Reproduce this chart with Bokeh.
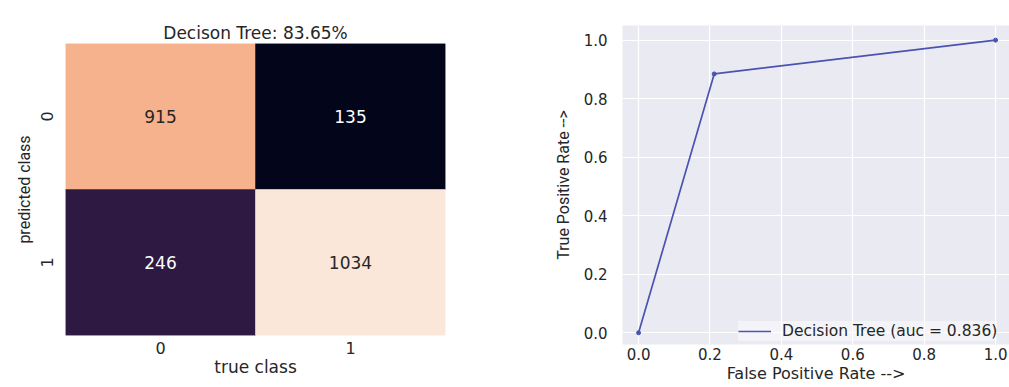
import numpy as np
from bokeh.plotting import figure
from bokeh.layouts import row
from bokeh.core.properties import value
from bokeh.models import (ColumnDataSource, LinearColorMapper, Range1d,
                          FixedTicker, Legend, LegendItem)
from bokeh.embed import file_html
from bokeh.resources import INLINE

# ---------------- data ----------------
class_labels = ["0", "1"]
true_class = [0, 1, 0, 1]
pred_class = [0, 0, 1, 1]
counts = [915, 135, 246, 1034]

fpr = [0.0, 0.2119, 1.0]
tpr = [0.0, 0.8845, 1.0]

FONT = "DejaVu Sans"
NARROW = "Roboto"
TXT = "#262626"

# ---------------- confusion matrix ----------------
accuracy = (counts[0] + counts[3]) / sum(counts)

# rocket-like colormap anchors
anchors = [(3, 5, 26), (46, 26, 66), (90, 30, 82), (135, 30, 90), (181, 25, 88),
           (225, 51, 66), (243, 111, 76), (246, 180, 142), (251, 230, 218)]
palette = []
for i in range(256):
    t = i / 255 * (len(anchors) - 1)
    k = min(int(t), len(anchors) - 2)
    f = t - k
    c = [round(a + (b - a) * f) for a, b in zip(anchors[k], anchors[k + 1])]
    palette.append("#%02x%02x%02x" % tuple(c))

mapper = LinearColorMapper(palette=palette, low=min(counts), high=max(counts))
mid = (min(counts) + max(counts)) / 2

cm_src = ColumnDataSource(dict(
    x=[t + 0.5 for t in true_class],
    y=[p + 0.5 for p in pred_class],
    count=counts,
    label=[str(c) for c in counts],
    tcolor=["white" if c < mid else TXT for c in counts],
))

p1 = figure(width=540, height=387, x_range=Range1d(0, 2), y_range=Range1d(2, 0),
            output_backend="svg", toolbar_location=None,
            min_border_left=65, min_border_right=95,
            min_border_top=43, min_border_bottom=52,
            title=f"Decison Tree: {accuracy:.2%}")
p1.frame_align = False
p1.rect("x", "y", width=1, height=1, source=cm_src,
        fill_color={"field": "count", "transform": mapper},
        line_color={"field": "count", "transform": mapper}, line_width=0.5)
p1.text("x", "y", text="label", source=cm_src, text_color="tcolor",
        text_align="center", text_baseline="middle",
        text_font_size="17px", text_font=value(FONT))

p1.title.align = "center"
p1.title.text_font = FONT
p1.title.text_font_size = "17px"
p1.title.text_font_style = "normal"
p1.title.text_color = TXT
p1.title.standoff = 1

ticks = [0.5, 1.5]
overrides = {0.5: class_labels[0], 1.5: class_labels[1]}
for ax in (p1.xaxis[0], p1.yaxis[0]):
    ax.ticker = FixedTicker(ticks=ticks)
    ax.major_label_overrides = overrides
    ax.axis_line_color = None
    ax.major_tick_line_color = None
    ax.minor_tick_line_color = None
    ax.major_tick_out = 0
    ax.minor_tick_out = 0
    ax.major_label_text_font = FONT
    ax.major_label_text_font_size = "16px"
    ax.major_label_text_color = TXT
    ax.axis_label_text_font = FONT
    ax.axis_label_text_font_style = "normal"
    ax.axis_label_text_color = TXT

p1.xaxis.axis_label = "true class"
p1.xaxis.axis_label_text_font_size = "17px"
p1.xaxis.major_label_standoff = 6
p1.xaxis.axis_label_standoff = 0
p1.yaxis.axis_label = "predicted class"
p1.yaxis.axis_label_text_font = NARROW
p1.yaxis.axis_label_text_font_size = "16px"
p1.yaxis.major_label_orientation = "vertical"
p1.yaxis.major_label_standoff = 13
p1.yaxis.axis_label_standoff = 4
p1.xgrid.visible = False
p1.ygrid.visible = False
p1.outline_line_color = None

# ---------------- ROC curve ----------------
auc = sum((fpr[i + 1] - fpr[i]) * (tpr[i + 1] + tpr[i]) / 2 for i in range(len(fpr) - 1))

p2 = figure(width=469, height=387, x_range=Range1d(-0.045, 1.039),
            y_range=Range1d(-0.04, 1.05),
            output_backend="svg", toolbar_location=None,
            min_border_left=82, min_border_right=0,
            min_border_top=25, min_border_bottom=43)
p2.frame_align = False
p2.background_fill_color = "#eaeaf2"
p2.outline_line_color = None
for g in (p2.xgrid[0], p2.ygrid[0]):
    g.grid_line_color = "white"
    g.grid_line_width = 1.2

roc_src = ColumnDataSource(dict(fpr=fpr, tpr=tpr))
line_col = "#4a52b2"
r_line = p2.line("fpr", "tpr", source=roc_src, line_color=line_col, line_width=1.7)
r_pts = p2.scatter("fpr", "tpr", source=roc_src, size=4, fill_color=line_col,
                   line_color=line_col)

# legend pinned near the lower-right corner of the frame (screen px offsets)
legend = Legend(items=[LegendItem(label=f"Decision Tree (auc = {auc:.3f})",
                                  renderers=[r_line])],
                location=(116, 3))
legend.label_text_font = FONT
legend.label_text_font_size = "15.5px"
legend.label_text_color = TXT
legend.background_fill_color = "white"
legend.background_fill_alpha = 0.45
legend.border_line_color = None
legend.glyph_width = 33
legend.label_standoff = 11
legend.margin = 0
legend.padding = 6
legend.spacing = 0
p2.add_layout(legend)

tick_vals = [0.0, 0.2, 0.4, 0.6, 0.8, 1.0]
for ax in (p2.xaxis[0], p2.yaxis[0]):
    ax.ticker = FixedTicker(ticks=tick_vals)
    ax.axis_line_color = None
    ax.major_tick_line_color = None
    ax.minor_tick_line_color = None
    ax.major_tick_out = 0
    ax.minor_tick_out = 0
    ax.major_label_text_font = FONT
    ax.major_label_text_font_size = "15px"
    ax.major_label_text_color = TXT
    ax.axis_label_text_font_style = "normal"
    ax.axis_label_text_color = TXT
p2.xaxis.major_label_overrides = {v: f"{v:.1f}" for v in tick_vals}
p2.yaxis.major_label_overrides = {v: f"{v:.1f}" for v in tick_vals}
p2.xaxis.axis_label = "False Positive Rate -->"
p2.xaxis.axis_label_text_font = FONT
p2.xaxis.axis_label_text_font_size = "16px"
p2.xaxis.major_label_standoff = 3
p2.xaxis.axis_label_standoff = 1
p2.yaxis.axis_label = "True Positive Rate -->"
p2.yaxis.axis_label_text_font = NARROW
p2.yaxis.axis_label_text_font_size = "16px"
p2.yaxis.major_label_standoff = 15
p2.yaxis.axis_label_standoff = 8

layout = row(p1, p2)
open("out.html", "w").write(file_html(layout, INLINE))
